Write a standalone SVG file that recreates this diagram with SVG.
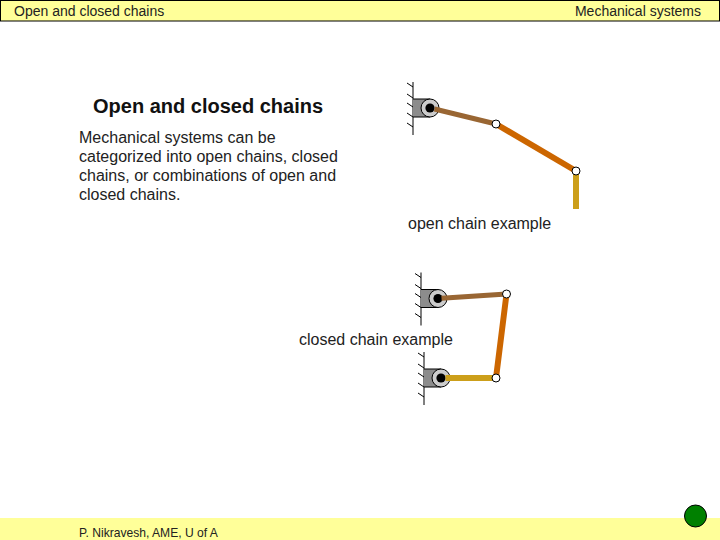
<svg xmlns="http://www.w3.org/2000/svg" width="720" height="540" viewBox="0 0 720 540">
<style>
text{font-family:"Liberation Sans",Arial,sans-serif;fill:#222}
.s{font-size:14px}.b{font-size:16px}.t{font-size:20px;font-weight:bold;fill:#111}.f{font-size:12.100px}
.wall{stroke:#000;stroke-width:1;fill:none}
.block{fill:#8c8c8c}
.l1,.l2,.l3{fill:none}
.l1{stroke:#996633;stroke-width:5}
.l2{stroke:#cc6600;stroke-width:6}
.l3{stroke:#cc9f1a;stroke-width:6}
.o{fill:#ccc;stroke:#000;stroke-width:1}
.c{fill:#000}
.j{fill:#fff;stroke:#000;stroke-width:1}
</style>
<defs>
<g id="ground">
<path class="wall" d="M0-26V27M-6-25L0-21M-6-14L0-10M-6-5L0-1M-6 5L0 9M-6 15L0 19"/>
<path class="block" d="M0-9H17V9H0Z"/>
<path d="M0-9H17M0 9H17" stroke="#000" stroke-width="1" fill="none"/>
<circle class="o" cx="17" r="9"/>
<circle class="c" cx="17" r="4.600"/>
</g>
</defs>
<g id="header">
<rect x="0.5" y="0.5" width="719" height="20.5" fill="#ffff99" stroke="#000" stroke-width="1"/>
<text class="s" x="14" y="16">Open and closed chains</text>
<text class="s" x="701" y="16" text-anchor="end">Mechanical systems</text>
</g>
<g id="footer">
<rect x="0" y="518" width="720" height="22" fill="#ffff99"/>
<text class="f" x="79" y="537">P. Nikravesh, AME, U of A</text>
<circle cx="695.500" cy="516" r="11" fill="#008000" stroke="#000" stroke-width="1"/>
</g>
<g id="heading">
<text class="t" x="93" y="113">Open and closed chains</text>
</g>
<g id="body">
<text class="b" x="79" y="143">Mechanical systems can be</text>
<text class="b" x="79" y="162">categorized into open chains, closed</text>
<text class="b" x="79" y="181">chains, or combinations of open and</text>
<text class="b" x="79" y="200">closed chains.</text>
</g>
<g id="labels">
<text class="b" x="408" y="229">open chain example</text>
<text class="b" x="299" y="345">closed chain example</text>
</g>
<g id="open-chain">
<use href="#ground" x="413" y="108"/>
</g>
<g id="closed-chain">
<use href="#ground" x="421" y="298.500"/>
<use href="#ground" x="424" y="378"/>
</g>
<g id="connectors">
<path class="l1" d="M434.500 109L496 124"/>
<path class="l2" d="M496 124L576 171"/>
<path class="l3" d="M576 171V209"/>
<path class="l1" d="M441.500 298.200L506.500 294"/>
<path class="l2" d="M506.500 294L496 378"/>
<path class="l3" d="M496 378H445.500"/>
</g>
<g id="joints">
<circle class="j" cx="496" cy="124" r="4"/>
<circle class="j" cx="576" cy="171" r="4"/>
<circle class="j" cx="506.500" cy="294" r="4"/>
<circle class="j" cx="496" cy="378" r="4"/>
</g>
</svg>
